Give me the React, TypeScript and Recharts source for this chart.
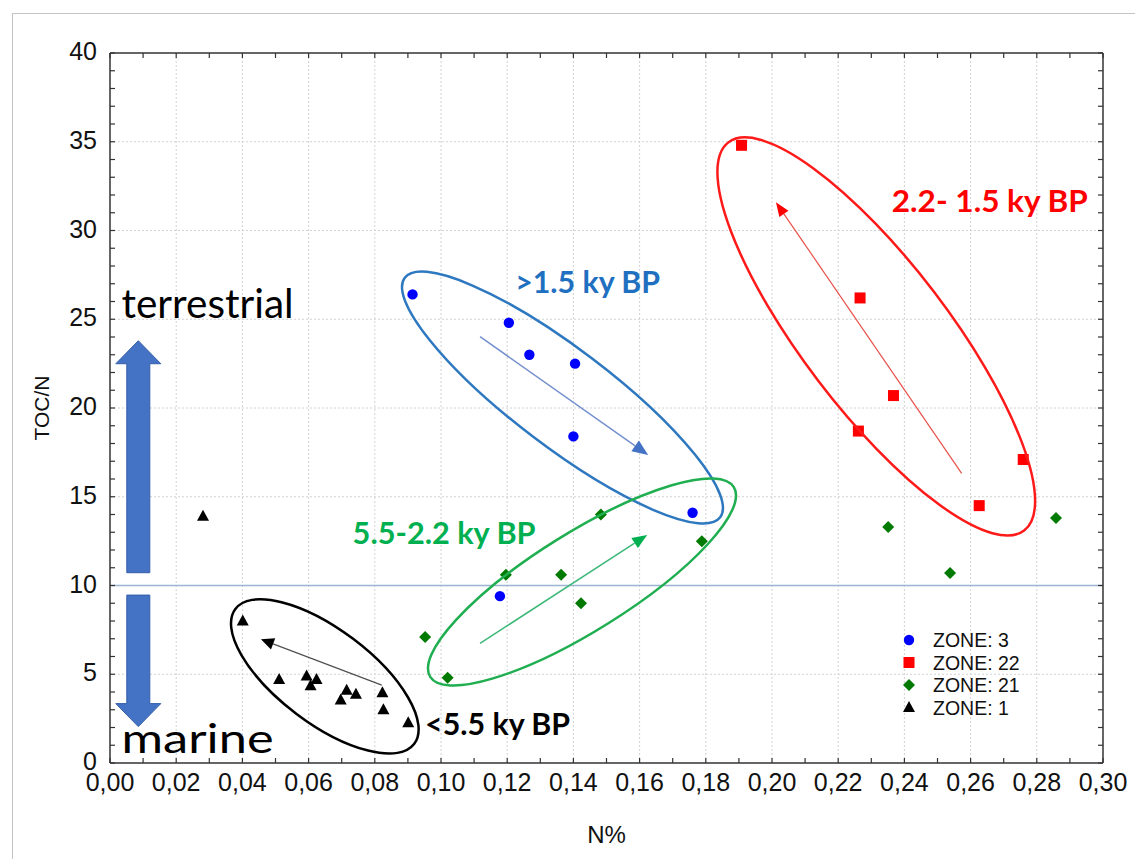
import React from 'react';
import { ScatterChart, Scatter, XAxis, YAxis, ReferenceLine, ReferenceDot, Legend } from 'recharts';

// values: N% and TOC/N per zone
const zone3N = [0.0914, 0.1205, 0.1267, 0.1405, 0.14, 0.176, 0.1178];
const zone3Toc = [26.4, 24.8, 23.0, 22.5, 18.4, 14.1, 9.4];

const zone22N = [0.1908, 0.2266, 0.2367, 0.2261, 0.2759, 0.2626];
const zone22Toc = [34.8, 26.2, 20.7, 18.7, 17.1, 14.5];

const zone21N = [0.0952, 0.102, 0.1196, 0.1363, 0.1423, 0.1483, 0.1788, 0.2351, 0.2538, 0.2858];
const zone21Toc = [7.1, 4.8, 10.6, 10.6, 9.0, 14.0, 12.5, 13.3, 10.7, 13.8];

const zone1N = [0.0281, 0.0401, 0.0511, 0.0594, 0.0624, 0.0606, 0.0715, 0.0697, 0.0743, 0.0823, 0.0826, 0.0901];
const zone1Toc = [13.9, 8.0, 4.7, 4.9, 4.7, 4.35, 4.1, 3.55, 3.87, 3.96, 3.0, 2.27];

const xTicks = [0, 0.01, 0.02, 0.03, 0.04, 0.05, 0.06, 0.07, 0.08, 0.09, 0.1, 0.11, 0.12, 0.13, 0.14, 0.15, 0.16, 0.17, 0.18, 0.19, 0.2, 0.21, 0.22, 0.23, 0.24, 0.25, 0.26, 0.27, 0.28, 0.29, 0.3];
const yTicks = [0, 1, 2, 3, 4, 5, 6, 7, 8, 9, 10, 11, 12, 13, 14, 15, 16, 17, 18, 19, 20, 21, 22, 23, 24, 25, 26, 27, 28, 29, 30, 31, 32, 33, 34, 35, 36, 37, 38, 39, 40];
const xGrid = [0.02, 0.04, 0.06, 0.08, 0.1, 0.12, 0.14, 0.16, 0.18, 0.2, 0.22, 0.24, 0.26, 0.28];
const yGrid = [5, 10, 15, 20, 25, 30, 35];
const threshold = 10;

const toPoints = (n: number[], toc: number[]) => n.map((v, i) => ({ n: v, toc: toc[i] }));

const series = [
  { name: 'ZONE: 3', data: toPoints(zone3N, zone3Toc), color: '#0000ff', kind: 'circle' },
  { name: 'ZONE: 22', data: toPoints(zone22N, zone22Toc), color: '#ff0000', kind: 'square' },
  { name: 'ZONE: 21', data: toPoints(zone21N, zone21Toc), color: '#007a00', kind: 'diamond' },
  { name: 'ZONE: 1', data: toPoints(zone1N, zone1Toc), color: '#000000', kind: 'triangle' },
];

// annotations drawn on top of the scatter
const ellipses = [
  { n: 0.1367, toc: 20.59, rx: 198, ry: 49, angle: 37.2, color: '#2e78c0' },
  { n: 0.2315, toc: 24.03, rx: 244, ry: 73, angle: 52.7, color: '#ff1a1a' },
  { n: 0.1426, toc: 10.2, rx: 179, ry: 49, angle: -32, color: '#1fae50' },
  { n: 0.0649, toc: 4.88, rx: 112, ry: 47, angle: 37, color: '#000000' },
];

const trendArrows = [
  { from: [0.1118, 24.02], to: [0.1626, 17.35], line: '#7590cf', head: '#4472c4', width: 1.5, headLen: 16, headW: 13 },
  { from: [0.2573, 16.32], to: [0.2012, 31.59], line: '#e8504a', head: '#ff0000', width: 1.2, headLen: 14, headW: 11 },
  { from: [0.1118, 6.74], to: [0.1623, 12.85], line: '#3cb878', head: '#00b050', width: 1.5, headLen: 15, headW: 12 },
  { from: [0.0821, 4.39], to: [0.0456, 6.97], line: '#505050', head: '#000000', width: 1.2, headLen: 13, headW: 12 },
];

const blockArrows = [
  { n: 0.00855, from: 10.72, to: 23.79 },
  { n: 0.00855, from: 9.46, to: 2.05 },
];

const notes = [
  { text: '>1.5 ky BP', n: 0.1224, toc: 26.46, color: '#1f70c0', size: 31, bold: true, width: 145 },
  { text: '2.2- 1.5 ky BP', n: 0.2362, toc: 31.06, color: '#ff0000', size: 31, bold: true, width: 196 },
  { text: '5.5-2.2 ky BP', n: 0.0733, toc: 12.32, color: '#00b050', size: 31, bold: true, width: 183 },
  { text: '<5.5 ky BP', n: 0.0952, toc: 1.58, color: '#000000', size: 31, bold: true, width: 145 },
  { text: 'terrestrial', n: 0.0035, toc: 25.05, color: '#000000', size: 40, bold: false, width: 172 },
  { text: 'marine', n: 0.0035, toc: 0.55, color: '#000000', size: 40, bold: false, width: 152 },
];

const FRAME = '#333333';
const AXIS_FONT = '"Liberation Sans", Arial, Helvetica, sans-serif';
const NOTE_FONT = 'Lato, "Open Sans", sans-serif';

const isMajorX = (v: number) => Math.round(v * 100) % 2 === 0;
const isMajorY = (v: number) => Math.round(v) % 5 === 0;
const fmtX = (v: number) => v.toFixed(2).replace('.', ',');

function marker(kind: string, cx: number, cy: number, color: string) {
  switch (kind) {
    case 'square':
      return <rect x={cx - 5.5} y={cy - 5.5} width={11} height={11} fill={color} />;
    case 'diamond':
      return <polygon points={`${cx},${cy - 6} ${cx + 6},${cy} ${cx},${cy + 6} ${cx - 6},${cy}`} fill={color} />;
    case 'triangle':
      return <polygon points={`${cx},${cy - 6.5} ${cx + 6},${cy + 4.5} ${cx - 6},${cy + 4.5}`} fill={color} />;
    default:
      return <circle cx={cx} cy={cy} r={5.2} fill={color} />;
  }
}

function BottomTick({ x, y, payload }: any) {
  const v = payload.value;
  return (
    <g>
      <line x1={x} x2={x} y1={y} y2={y - 5} stroke={FRAME} strokeWidth={1.2} />
      {isMajorX(v) && (
        <text x={x} y={y + 28} textAnchor="middle" fontFamily={AXIS_FONT} fontSize={25} fill="#111">
          {fmtX(v)}
        </text>
      )}
    </g>
  );
}

function TopTick({ x, y }: any) {
  return <line x1={x} x2={x} y1={y} y2={y + 5} stroke={FRAME} strokeWidth={1.2} />;
}

function LeftTick({ x, y, payload }: any) {
  const v = payload.value;
  return (
    <g>
      <line x1={x} x2={x + 5} y1={y} y2={y} stroke={FRAME} strokeWidth={1.2} />
      {isMajorY(v) && (
        <text x={x - 13} y={y + 7} textAnchor="end" fontFamily={AXIS_FONT} fontSize={25} fill="#111">
          {v}
        </text>
      )}
    </g>
  );
}

function RightTick({ x, y }: any) {
  return <line x1={x} x2={x - 5} y1={y} y2={y} stroke={FRAME} strokeWidth={1.2} />;
}

function arrowShape(a: (typeof trendArrows)[number]) {
  return (p: any) => {
    const { x1, y1, x2, y2 } = p;
    const len = Math.hypot(x2 - x1, y2 - y1) || 1;
    const ux = (x2 - x1) / len;
    const uy = (y2 - y1) / len;
    const bx = x2 - ux * a.headLen;
    const by = y2 - uy * a.headLen;
    const px = (-uy * a.headW) / 2;
    const py = (ux * a.headW) / 2;
    return (
      <g>
        <line x1={x1} y1={y1} x2={bx} y2={by} stroke={a.line} strokeWidth={a.width} />
        <polygon points={`${x2},${y2} ${bx + px},${by + py} ${bx - px},${by - py}`} fill={a.head} />
      </g>
    );
  };
}

function blockArrowShape(p: any) {
  const { x1, y1, y2 } = p;
  const dir = Math.sign(y2 - y1);
  const baseY = y2 - dir * 23;
  const pts = [
    [x1 - 11.5, y1],
    [x1 - 11.5, baseY],
    [x1 - 22.5, baseY],
    [x1, y2],
    [x1 + 22.5, baseY],
    [x1 + 11.5, baseY],
    [x1 + 11.5, y1],
  ];
  return <polygon points={pts.map((q) => q.join(',')).join(' ')} fill="#4472c4" stroke="#345fa8" strokeWidth={1} />;
}

const ROW = 22.5;

function LegendBox() {
  return (
    <svg width={200} height={100}>
      {series.map((s, i) => (
        <g key={s.name}>
          {marker(s.kind, 14, 12 + i * ROW, s.color)}
          <text x={38} y={19 + i * ROW} fontFamily={AXIS_FONT} fontSize={19.5} fill="#111">
            {s.name}
          </text>
        </g>
      ))}
    </svg>
  );
}

export default function App() {
  return (
    <div style={{ position: 'absolute', left: 0, top: 0, width: 1135, height: 859, background: '#fff' }}>
      <div
        style={{
          position: 'absolute',
          left: 12,
          top: 13,
          right: 0,
          bottom: 0,
          borderTop: '1.5px solid #c4c4c4',
          borderLeft: '1.5px solid #c4c4c4',
        }}
      />
      <div style={{ position: 'absolute', left: 0, top: 0 }}>
        <ScatterChart width={1135} height={859} margin={{ top: 52, right: 31, bottom: 0, left: 0 }}>
          <XAxis
            dataKey="n"
            type="number"
            domain={[0, 0.3]}
            ticks={xTicks}
            interval={0}
            tickSize={0}
            tickMargin={0}
            tickLine={false}
            height={96}
            axisLine={{ stroke: FRAME, strokeWidth: 1.5 }}
            tick={BottomTick}
            allowDataOverflow
            label={{
              value: 'N%',
              position: 'insideBottom',
              offset: 16,
              style: { fontFamily: AXIS_FONT, fontSize: 24, fill: '#111' },
            }}
          />
          <XAxis
            xAxisId="top"
            orientation="top"
            dataKey="n"
            type="number"
            domain={[0, 0.3]}
            ticks={xTicks}
            interval={0}
            tickSize={0}
            tickMargin={0}
            tickLine={false}
            height={1}
            axisLine={{ stroke: FRAME, strokeWidth: 1.5 }}
            tick={TopTick}
            allowDataOverflow
          />
          <YAxis
            dataKey="toc"
            type="number"
            domain={[0, 40]}
            ticks={yTicks}
            interval={0}
            tickSize={0}
            tickMargin={0}
            tickLine={false}
            width={110}
            axisLine={{ stroke: FRAME, strokeWidth: 1.5 }}
            tick={LeftTick}
            allowDataOverflow
            label={{
              value: 'TOC/N',
              angle: -90,
              position: 'insideLeft',
              offset: 42,
              style: { textAnchor: 'middle', fontFamily: AXIS_FONT, fontSize: 21, fill: '#111' },
            }}
          />
          <YAxis
            yAxisId="right"
            orientation="right"
            dataKey="toc"
            type="number"
            domain={[0, 40]}
            ticks={yTicks}
            interval={0}
            tickSize={0}
            tickMargin={0}
            tickLine={false}
            width={1}
            axisLine={{ stroke: FRAME, strokeWidth: 1.5 }}
            tick={RightTick}
            allowDataOverflow
          />

          {xGrid.map((v) => (
            <ReferenceLine key={`gx${v}`} x={v} stroke="#d2d2d2" strokeDasharray="2 2" />
          ))}
          {yGrid.map((v) => (
            <ReferenceLine key={`gy${v}`} y={v} stroke="#d2d2d2" strokeDasharray="2 2" />
          ))}
          <ReferenceLine y={threshold} stroke="#9db4d2" strokeWidth={1.5} />

          {blockArrows.map((b, i) => (
            <ReferenceLine
              key={`ba${i}`}
              segment={[
                { x: b.n, y: b.from },
                { x: b.n, y: b.to },
              ]}
              shape={blockArrowShape}
            />
          ))}

          {series.map((s) => (
            <Scatter
              key={s.name}
              name={s.name}
              data={s.data}
              fill={s.color}
              legendType={s.kind as any}
              isAnimationActive={false}
              shape={(p: any) => marker(s.kind, p.cx, p.cy, s.color)}
            />
          ))}

          {ellipses.map((e, i) => (
            <ReferenceDot
              key={`el${i}`}
              x={e.n}
              y={e.toc}
              shape={(p: any) => (
                <ellipse
                  cx={p.cx}
                  cy={p.cy}
                  rx={e.rx}
                  ry={e.ry}
                  transform={`rotate(${e.angle} ${p.cx} ${p.cy})`}
                  fill="none"
                  stroke={e.color}
                  strokeWidth={2.5}
                />
              )}
            />
          ))}

          {trendArrows.map((a, i) => (
            <ReferenceLine
              key={`ta${i}`}
              segment={[
                { x: a.from[0], y: a.from[1] },
                { x: a.to[0], y: a.to[1] },
              ]}
              shape={arrowShape(a)}
            />
          ))}

          {notes.map((t) => (
            <ReferenceDot
              key={t.text}
              x={t.n}
              y={t.toc}
              shape={(p: any) => (
                <text
                  x={p.cx}
                  y={p.cy}
                  fontFamily={NOTE_FONT}
                  fontSize={t.size}
                  fontWeight={t.bold ? 700 : 400}
                  fill={t.color}
                  textLength={t.width}
                  lengthAdjust="spacingAndGlyphs"
                >
                  {t.text}
                </text>
              )}
            />
          ))}

          <Legend
            layout="vertical"
            align="center"
            verticalAlign="middle"
            content={LegendBox}
            wrapperStyle={{ left: 895, top: 628, width: 200, height: 100 }}
          />
        </ScatterChart>
      </div>
    </div>
  );
}
